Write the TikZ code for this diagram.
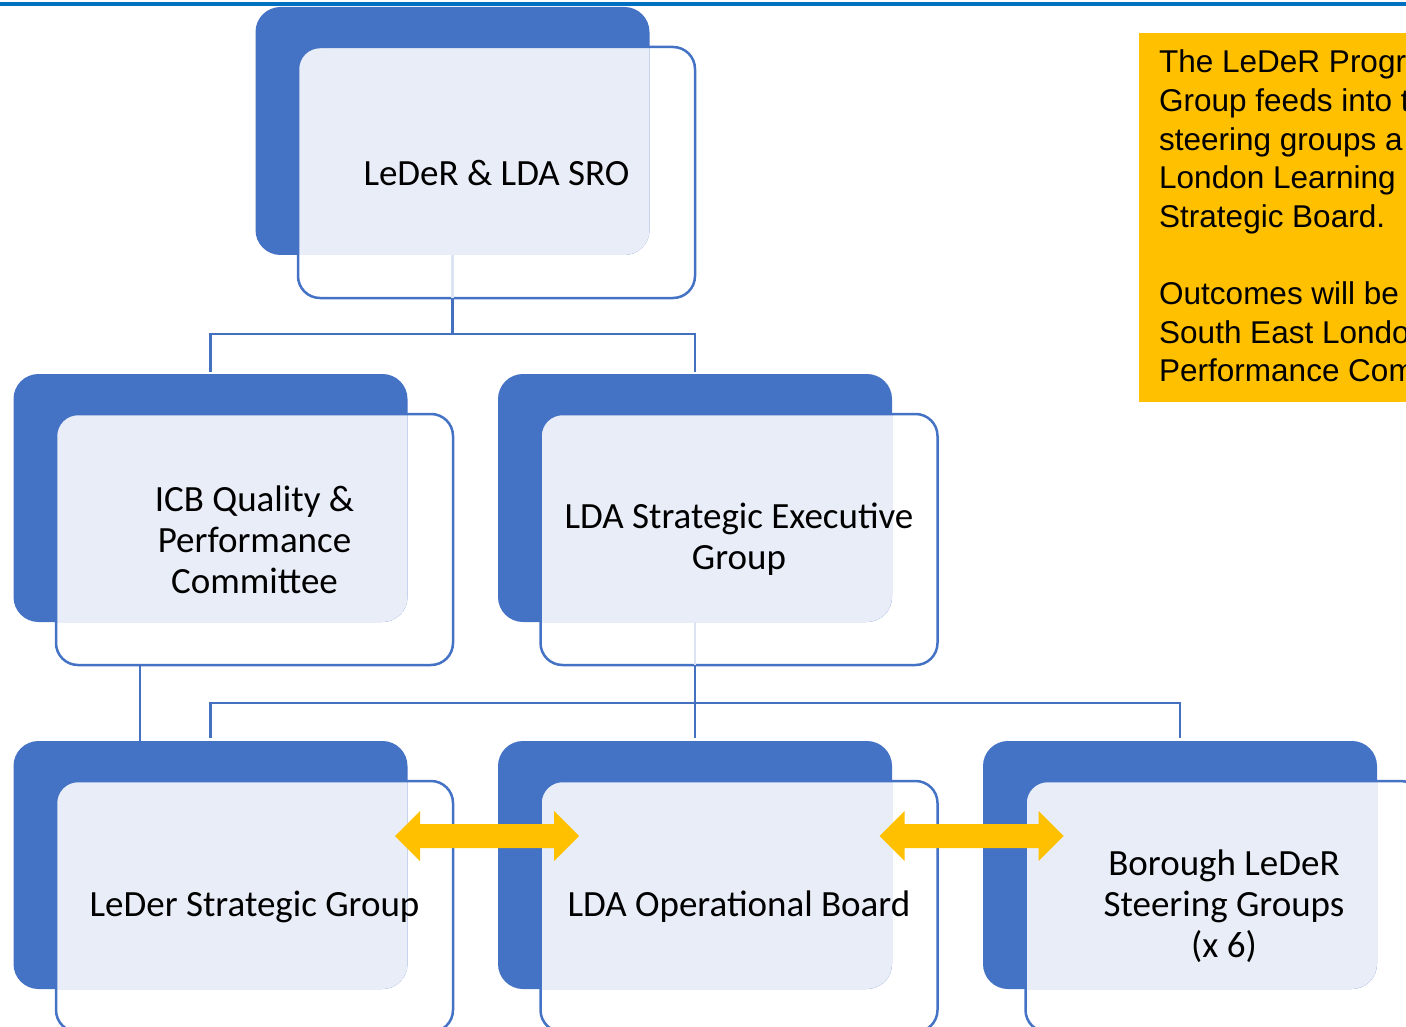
\documentclass[tikz,border=0pt]{standalone}
\usepackage{fontspec}
\setmainfont{Carlito}
\newfontfamily\notefont{Liberation Sans}
\usetikzlibrary{calc}
\definecolor{boxblue}{HTML}{4472C4}
\definecolor{lightfill}{HTML}{E9EDF7}
\definecolor{linkblue}{HTML}{4470C0}
\definecolor{faintblue}{HTML}{DCE3F2}
\definecolor{topblue}{HTML}{0070C0}
\definecolor{noteyellow}{HTML}{FFC000}
\pgfdeclarelayer{bg}
\pgfsetlayers{bg,main}
\tikzset{
  outbox/.style={draw=boxblue, line width=2.5pt, rounded corners=22pt, minimum width=397pt, minimum height=251pt, inner sep=0pt, outer sep=0pt, align=center, font=\fontsize{37}{41}\selectfont},
  bluebox/.style={fill=boxblue, rounded corners=25pt, minimum width=394pt, minimum height=248pt, inner sep=0pt, outer sep=0pt},
  link/.style={draw=linkblue, line width=2.5pt},
  faintlink/.style={draw=faintblue, line width=2.5pt},
  noteline/.style={anchor=base west, inner sep=0pt, font=\notefont\fontsize{31.5}{38.6}\selectfont},
  blockarrow/.style={fill=noteyellow},
}
\newcommand{\stackbox}[4]{% name, x, y, text
  \node[outbox] (#1) at (#2,#3) {#4};
  \begin{pgfonlayer}{bg}
    \node[bluebox] (#1B) at ($(#1.center)+(-44,-41.5)$) {};
    \begin{scope}
      \clip[rounded corners=25pt] (#1B.north west) rectangle (#1B.south east);
      \fill[lightfill, rounded corners=22pt] (#1.north west) rectangle (#1.south east);
    \end{scope}
  \end{pgfonlayer}
}
\begin{document}
\begin{tikzpicture}[x=1pt,y=-1pt]
\useasboundingbox (0,0) rectangle (1406,1027);
\clip (0,0) rectangle (1406,1027);
\draw[topblue, line width=4pt] (0,4.5) -- (1406,4.5);

% boxes
\stackbox{sro}{496.5}{172.5}{LeDeR \& LDA SRO}
\stackbox{icb}{254.5}{539.5}{ICB Quality \&\\Performance\\Committee}
\stackbox{seg}{739}{539.5}{LDA Strategic Executive\\Group}
\stackbox{lsg}{254.5}{906.5}{LeDer Strategic Group}
\stackbox{lob}{739}{906.5}{LDA Operational Board}
\stackbox{bor}{1224}{906.5}{Borough LeDeR\\Steering Groups\\(x 6)}

% connectors
\draw[faintlink] (sroB.south) -- (sroB.south |- sro.south);
\draw[link] (sroB.south |- sro.south) -- ++(0,36) -| ([yshift=2pt]icbB.north);
\draw[link] (sroB.south |- sro.south) -- ++(0,36) -| ([yshift=2pt]segB.north);
\draw[link] ([xshift=-114.5pt]icb.south) -- ([xshift=-114.5pt]icb.south |- lsgB.north);
\draw[faintlink] (segB.south) -- (segB.south |- seg.south);
\draw[link] (segB.south |- seg.south) -- ([yshift=3pt]lobB.north);
\draw[link] ([yshift=3pt]lsgB.north) -- ++(0,-35) -| ([yshift=3pt]borB.north);

% yellow double arrows
\coordinate (a1) at ($(lsg.east)+(34,-70.5)$);
\fill[blockarrow] ($(a1)+(-92,0)$) -- ++(25,-25) -- ++(0,13) -- ++(134,0) -- ++(0,-13) -- ++(25,25) -- ++(-25,25) -- ++(0,-13) -- ++(-134,0) -- ++(0,13) -- cycle;
\coordinate (a2) at ($(lob.east)+(34,-70.5)$);
\fill[blockarrow] ($(a2)+(-92,0)$) -- ++(25,-25) -- ++(0,13) -- ++(134,0) -- ++(0,-13) -- ++(25,25) -- ++(-25,25) -- ++(0,-13) -- ++(-134,0) -- ++(0,13) -- cycle;

% note box
\fill[noteyellow] (1139,33) rectangle (1420,402);
\node[noteline] (n1) at (1159,73) {The LeDeR Progr};
\node[noteline] (n2) at (1159,111.6) {Group feeds into t};
\node[noteline] (n3) at (1159,150.2) {steering groups a};
\node[noteline] (n4) at (1159,188.8) {London Learning};
\node[noteline] (n5) at (1159,227.4) {Strategic Board.};
\node[noteline] (n6) at (1159,304.6) {Outcomes will be};
\node[noteline] (n7) at (1159,343.2) {South East Londo};
\node[noteline] (n8) at (1159,381.8) {Performance Com};
\end{tikzpicture}
\end{document}
